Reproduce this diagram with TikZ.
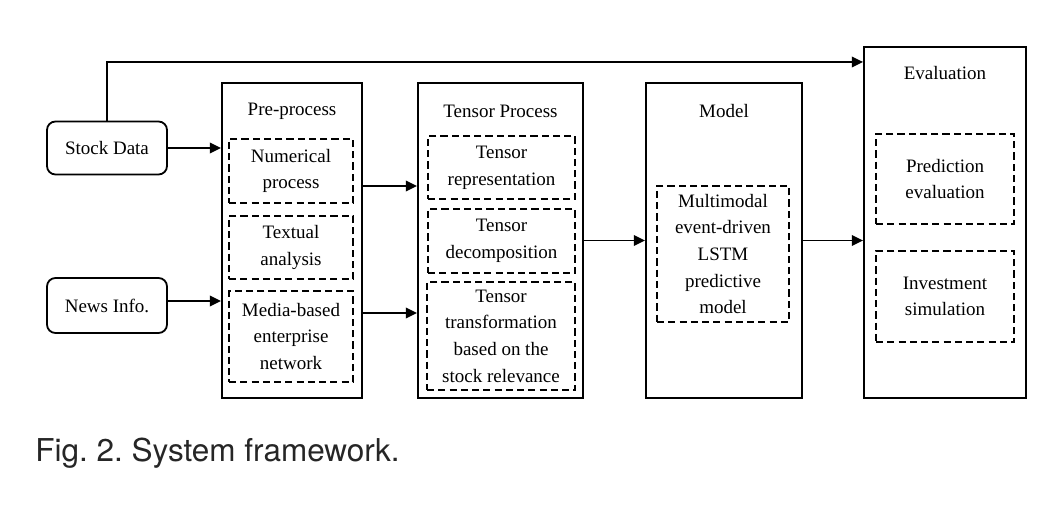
\documentclass[tikz,border=0pt]{standalone}
\usepackage{fontspec}
\setmainfont{Liberation Serif}
\newfontfamily\capfont{TeX Gyre Heros}
\usetikzlibrary{positioning, arrows.meta, calc}
\frenchspacing

\begin{document}
\begin{tikzpicture}[x=0.025cm, y=-0.025cm]
    % Styles
    \tikzset{
        source/.style={rectangle, draw, line width=1.3pt, rounded corners=6pt, minimum width=120*0.025cm, minimum height=53*0.025cm, font=\fontsize{13.5}{19}\selectfont},
        container/.style={rectangle, draw, line width=1.3pt, minimum width=#1*0.025cm},
        inner_box/.style={rectangle, draw, dashed, dash pattern=on 5pt off 3pt, line width=1.1pt, align=center, font=\fontsize{13.5}{19}\selectfont},
        title_text/.style={font=\fontsize{13.5}{19}\selectfont},
        arr/.style={-{Triangle[length=8pt, width=7.5pt]}, line width=1.3pt}
    }

    % page size
    \useasboundingbox (0,0) rectangle (1057,517);

    % --- Inputs ---
    \node[source] (stock) at (107,148) {Stock Data};
    \node[source, minimum height=55*0.025cm] (news) at (107,305.5) {News Info.};

    % --- Pre-process ---
    \node[container=140, minimum height=315*0.025cm] (pre) at (292,240.5) {};
    \node[title_text] (pre_title) at (292,111) {Pre-process};
    \node[inner_box, minimum width=124*0.025cm, minimum height=64*0.025cm] (numerical) at (291,171) {Numerical\\process};
    \node[inner_box, minimum width=124*0.025cm, minimum height=63*0.025cm] (textual) at (291,247.5) {Textual\\analysis};
    \node[inner_box, minimum width=124*0.025cm, minimum height=91*0.025cm] (media) at (291,336.5) {Media-based\\enterprise\\network};

    % --- Tensor Process ---
    \node[container=165, minimum height=315*0.025cm] (tensor) at (500.5,240.5) {};
    \node[title_text] (tensor_title) at (500.5,111) {Tensor Process};
    \node[inner_box, minimum width=147*0.025cm, minimum height=63*0.025cm] (represent) at (501.5,167.5) {Tensor\\representation};
    \node[inner_box, minimum width=147*0.025cm, minimum height=64*0.025cm] (decompose) at (501.5,241) {Tensor\\decomposition};
    \node[inner_box, minimum width=148*0.025cm, minimum height=108*0.025cm] (transform) at (501,336) {Tensor\\transformation\\based on the\\stock relevance};

    % --- Model ---
    \node[container=156, minimum height=315*0.025cm] (model) at (724,240.5) {};
    \node[title_text] (model_title) at (724,111) {Model};
    \node[inner_box, minimum width=132*0.025cm, minimum height=136*0.025cm] (lstm) at (723,254) {Multimodal\\event-driven\\LSTM\\predictive\\model};

    % --- Evaluation ---
    \node[container=162, minimum height=351*0.025cm] (eval) at (945,222.5) {};
    \node[title_text] (eval_title) at (945,73) {Evaluation};
    \node[inner_box, minimum width=138*0.025cm, minimum height=90*0.025cm] (predict) at (945,179) {Prediction\\evaluation};
    \node[inner_box, minimum width=138*0.025cm, minimum height=91*0.025cm] (invest) at (945,296.5) {Investment\\simulation};

    % --- Connections ---
    \draw[arr] (stock.east) -- (stock.east -| pre.west);
    \draw[arr] (news.east |- 0,301) -- (pre.west |- 0,301);
    \draw[arr] (pre.east |- 0,186) -- (tensor.west |- 0,186);
    \draw[arr] (pre.east |- 0,313) -- (tensor.west |- 0,313);
    \draw[arr] (tensor.east) -- (model.west);
    \draw[arr] (model.east) -- (model.east -| eval.west);
    % Stock data straight to evaluation
    \draw[arr] (stock.north) |- (eval.west |- 0,62);

    % Caption
    \node[anchor=base west, inner sep=0pt, font=\capfont\fontsize{22.4}{26}\selectfont, text=black!85] (caption) at (35,461) {Fig. 2. System framework.};
\end{tikzpicture}
\end{document}
